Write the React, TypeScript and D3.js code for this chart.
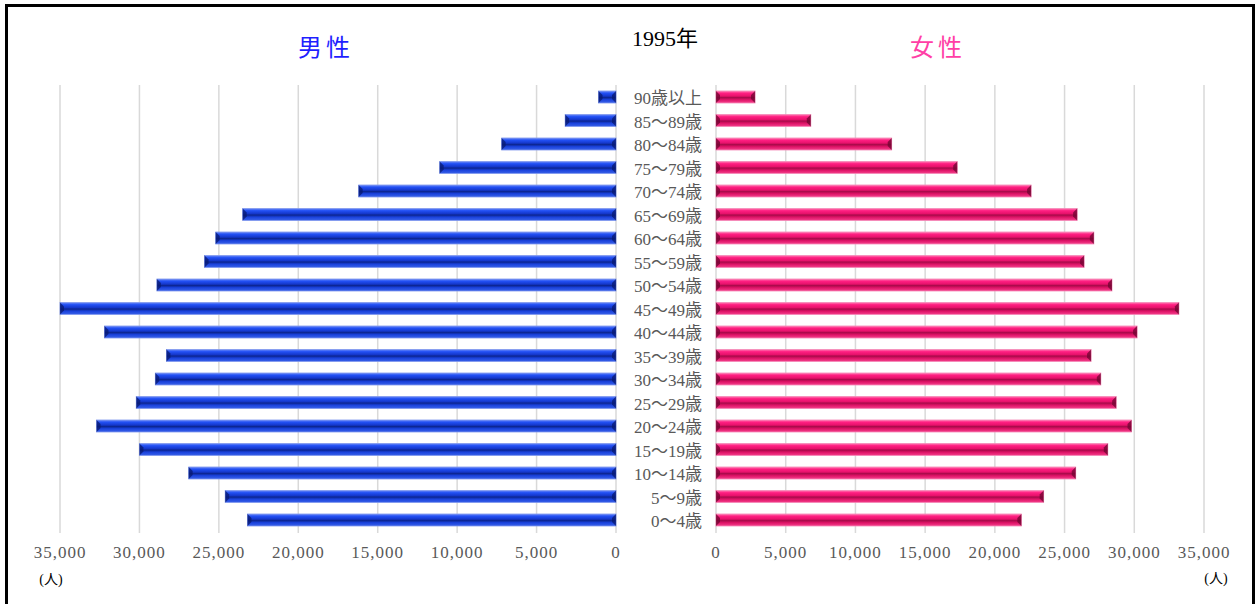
import * as d3 from 'd3';

// 年齢階級（下から上へ）
const ages = [
  '0～4歳', '5～9歳', '10～14歳', '15～19歳', '20～24歳', '25～29歳', '30～34歳',
  '35～39歳', '40～44歳', '45～49歳', '50～54歳', '55～59歳', '60～64歳', '65～69歳',
  '70～74歳', '75～79歳', '80～84歳', '85～89歳', '90歳以上',
];

const male = [
  23200, 24600, 26900, 30000, 32700, 30200, 29000, 28300, 32200, 35000,
  28900, 25900, 25200, 23500, 16200, 11100, 7200, 3200, 1100,
];

const female = [
  21900, 23500, 25800, 28100, 29800, 28700, 27600, 26900, 30200, 33200,
  28400, 26400, 27100, 25900, 22600, 17300, 12600, 6800, 2800,
];

const ticks = [0, 5000, 10000, 15000, 20000, 25000, 30000, 35000];

const SERIF = '"Liberation Serif", "DejaVu Serif", "Noto Sans CJK JP", serif';
const GOTHIC = '"Noto Sans CJK JP", "Noto Sans", sans-serif';
const GRAY = '#595959';

const W = 1256;
const H = 604;

export default function App() {
  const xL = d3.scaleLinear().domain([0, 35000]).range([616, 60]);
  const xR = d3.scaleLinear().domain([0, 35000]).range([716, 1204]);
  const y = d3
    .scaleBand<string>()
    .domain([...ages].reverse())
    .range([85.25, 531.75]);

  const barH = 12;
  const bev = 4;
  const fmt = d3.format(',');

  // bar with bevelled ends
  const bar = (x0: number, x1: number, cy: number, side: 'm' | 'f', key: string) => {
    const t = cy - barH / 2;
    const b = cy + barH / 2;
    const lo = Math.min(x0, x1);
    const hi = Math.max(x0, x1);
    const dark = side === 'm' ? '#081a70' : '#6e0630';
    const edge = side === 'm' ? '#7f97ee' : '#f487b6';
    return (
      <g key={key}>
        <rect x={lo} y={t} width={hi - lo} height={barH} fill={`url(#grad-${side})`} stroke={edge} strokeWidth={0.8} />
        <polygon
          points={`${lo},${t} ${lo + bev},${t + bev} ${lo + bev},${b - bev} ${lo},${b}`}
          fill={dark}
          opacity={0.75}
        />
        <polygon
          points={`${hi},${t} ${hi - bev},${t + bev} ${hi - bev},${b - bev} ${hi},${b}`}
          fill={dark}
          opacity={0.75}
        />
      </g>
    );
  };

  return (
    <div style={{ position: 'absolute', left: 0, top: 0 }}>
      <svg width={W} height={H} style={{ display: 'block', background: '#fff' }}>
        <defs>
          <linearGradient id="grad-m" x1="0" y1="0" x2="0" y2="1">
            <stop offset="0%" stopColor="#6f8cf5" />
            <stop offset="18%" stopColor="#2250f5" />
            <stop offset="42%" stopColor="#1538cc" />
            <stop offset="55%" stopColor="#0c2590" />
            <stop offset="72%" stopColor="#1a42dd" />
            <stop offset="100%" stopColor="#3a62e8" />
          </linearGradient>
          <linearGradient id="grad-f" x1="0" y1="0" x2="0" y2="1">
            <stop offset="0%" stopColor="#ff7fb4" />
            <stop offset="18%" stopColor="#ff1f82" />
            <stop offset="42%" stopColor="#e8126c" />
            <stop offset="55%" stopColor="#a80a4a" />
            <stop offset="72%" stopColor="#dd1266" />
            <stop offset="100%" stopColor="#f5408c" />
          </linearGradient>
        </defs>

        {/* frame */}
        <rect x={6.5} y={5.5} width={1247} height={620} fill="none" stroke="#000" strokeWidth={3} />

        {/* grid */}
        {ticks.map((t) => (
          <line key={`gl${t}`} x1={xL(t)} x2={xL(t)} y1={85} y2={533} stroke="#d9d9d9" strokeWidth={1.5} />
        ))}
        {ticks.map((t) => (
          <line key={`gr${t}`} x1={xR(t)} x2={xR(t)} y1={85} y2={533} stroke="#d9d9d9" strokeWidth={1.5} />
        ))}

        {/* bars */}
        {ages.map((a, i) => {
          const cy = (y(a) ?? 0) + y.bandwidth() / 2;
          return (
            <g key={a}>
              {bar(xL(male[i]), xL(0), cy, 'm', `m${a}`)}
              {bar(xR(0), xR(female[i]), cy, 'f', `f${a}`)}
              <text
                x={702}
                y={cy + 7}
                textAnchor="end"
                fill={GRAY}
                fontFamily={SERIF}
                fontSize={17}
              >
                {a}
              </text>
            </g>
          );
        })}

        {/* tick labels */}
        {ticks.map((t) => (
          <text key={`tl${t}`} x={xL(t)} y={558} textAnchor="middle" fill={GRAY} fontFamily={SERIF} fontSize={17} letterSpacing={1}>
            {fmt(t)}
          </text>
        ))}
        {ticks.map((t) => (
          <text key={`tr${t}`} x={xR(t)} y={558} textAnchor="middle" fill={GRAY} fontFamily={SERIF} fontSize={17} letterSpacing={1}>
            {fmt(t)}
          </text>
        ))}

        {/* unit labels */}
        <text x={51} y={584} textAnchor="middle" fill="#000" fontFamily={SERIF} fontSize={14}>(人)</text>
        <text x={1216} y={583} textAnchor="middle" fill="#000" fontFamily={SERIF} fontSize={14}>(人)</text>

        {/* titles */}
        <text x={326} y={56} textAnchor="middle" fill="#1f1fff" fontFamily={GOTHIC} fontSize={24} letterSpacing={4}>
          男性
        </text>
        <text x={938} y={56} textAnchor="middle" fill="#ff3fa6" fontFamily={GOTHIC} fontSize={24} letterSpacing={4}>
          女性
        </text>
        <text x={665} y={46} textAnchor="middle" fill="#000" fontFamily={SERIF} fontSize={22}>
          1995年
        </text>
      </svg>
    </div>
  );
}
